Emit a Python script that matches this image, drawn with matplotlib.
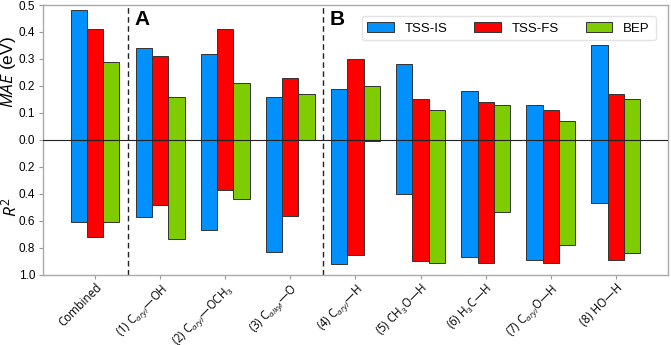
import numpy as np
import matplotlib
matplotlib.use("Agg")
import matplotlib.pyplot as plt

plt.rcParams['font.family'] = ['Liberation Sans', 'DejaVu Sans']
plt.rcParams['mathtext.fontset'] = 'custom'
plt.rcParams['mathtext.rm'] = 'Open Sans'
plt.rcParams['mathtext.it'] = 'Open Sans:italic'

labels = ["Combined",
          r"(1) C$_{\mathit{aryl}}$—OH",
          r"(2) C$_{\mathit{aryl}}$—OCH$_3$",
          r"(3) C$_{\mathit{alkyl}}$—O",
          r"(4) C$_{\mathit{aryl}}$—H",
          r"(5) CH$_3$O—H",
          r"(6) H$_3$C—H",
          r"(7) C$_{\mathit{aryl}}$O—H",
          r"(8) HO—H"]
series = ["TSS-IS", "TSS-FS", "BEP"]

# MAE (eV), upper half
mae_is = [0.48, 0.34, 0.32, 0.16, 0.19, 0.28, 0.18, 0.13, 0.35]
mae_fs = [0.41, 0.31, 0.41, 0.23, 0.30, 0.15, 0.14, 0.11, 0.17]
mae_bep = [0.29, 0.16, 0.21, 0.17, 0.20, 0.11, 0.13, 0.07, 0.15]

# R^2, lower half
r2_is = [0.61, 0.57, 0.67, 0.83, 0.92, 0.40, 0.87, 0.89, 0.465]
r2_fs = [0.72, 0.48, 0.37, 0.56, 0.85, 0.90, 0.91, 0.91, 0.89]
r2_bep = [0.61, 0.73, 0.435, 0.0, 0.01, 0.91, 0.53, 0.78, 0.84]

colors = ["#0091FF", "#FF0000", "#7FCC00"]

fig = plt.figure(figsize=(6.71, 3.45), dpi=100)
ax = fig.add_axes([0.064, 0.203, 0.9315, 0.7825])

x = np.arange(len(labels))
w = 0.25
for i, (m, r, c, name) in enumerate(zip([mae_is, mae_fs, mae_bep],
                                         [r2_is, r2_fs, r2_bep], colors, series)):
    pos = x + (i - 1) * w
    ax.bar(pos, m, width=w, color=c, edgecolor="#333333", linewidth=0.7, label=name, zorder=2)
    ax.bar(pos, -0.5 * np.array(r), width=w, color=c, edgecolor="#333333", linewidth=0.7, zorder=2)

ax.axhline(0, color="#222222", lw=0.8, zorder=3)
for xv in (0.5, 3.5):
    ax.axvline(xv, color="#222222", lw=1.0, ls=(0, (4, 2.5)), zorder=1)

ax.text(0.6, 0.482, "A", fontsize=15, fontweight="bold", va="top", ha="left")
ax.text(3.6, 0.482, "B", fontsize=15, fontweight="bold", va="top", ha="left")

ax.set_xlim(-0.8, 8.8)
ax.set_ylim(-0.5, 0.5)
yt = np.round(np.arange(-0.5, 0.51, 0.1), 2)
ax.set_yticks(yt)
ax.set_yticklabels([f"{abs(v):.1f}" if v >= 0 else f"{-2 * v:.1f}" for v in yt], fontsize=8.5)
ax.set_xticks(x)
ax.set_xticklabels(labels, rotation=45, ha="right", rotation_mode="anchor", fontsize=8.3,
                   family=["Open Sans", "DejaVu Sans"])
ax.tick_params(axis="both", color="#999999", length=3, width=0.8, pad=2.5)
ax.tick_params(axis="x", pad=1.5)

for s in ax.spines.values():
    s.set_color("#aaaaaa")
    s.set_linewidth(1.0)

fig.text(0.012, 0.79, r"$\mathit{MAE}$ (eV)", rotation=90, fontsize=12.5, ha="center", va="center")
fig.text(0.014, 0.40, r"$\mathit{R}^2$", rotation=90, fontsize=12.5, ha="center", va="center")

leg = ax.legend(loc="upper right", ncol=3, fontsize=9.5, frameon=True, fancybox=True,
                handlelength=2.0, handleheight=0.75, handletextpad=0.85, columnspacing=2.0,
                bbox_to_anchor=(0.991, 0.983), borderpad=0.45)
leg.get_frame().set_edgecolor("#dddddd")

fig.savefig("out.png", dpi=100)
